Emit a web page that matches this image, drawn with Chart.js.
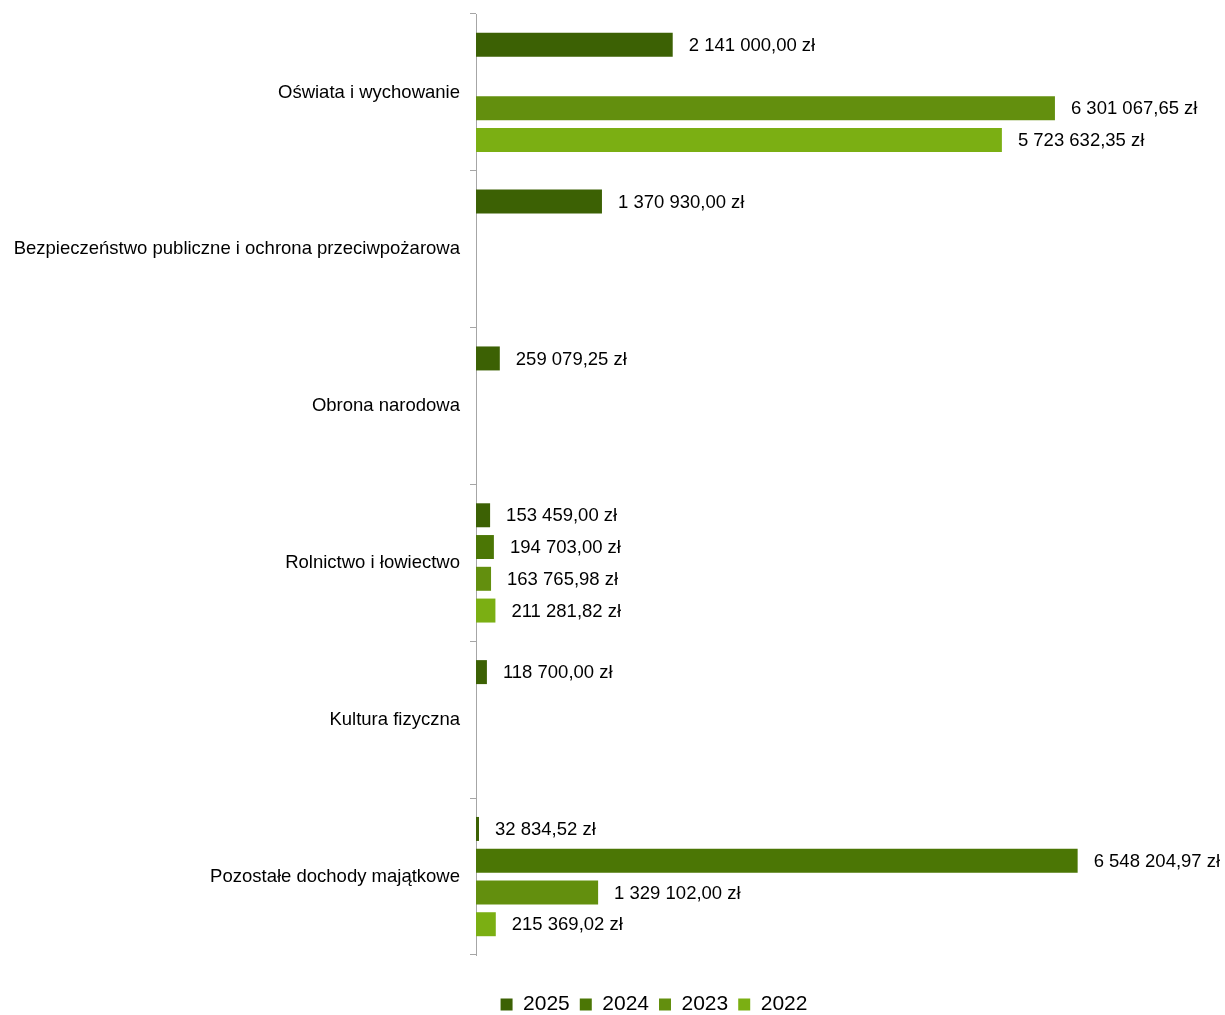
<!DOCTYPE html>
<html><head><meta charset="utf-8">
<script src="https://cdn.jsdelivr.net/npm/chart.js@4"></script>
<style>html,body{margin:0;padding:0;background:#fff;overflow:hidden}</style>
</head><body>
<canvas id="c" width="1225" height="1015"></canvas>
<script>
const categories = ["Oświata i wychowanie","Bezpieczeństwo publiczne i ochrona przeciwpożarowa","Obrona narodowa","Rolnictwo i łowiectwo","Kultura fizyczna","Pozostałe dochody majątkowe"];
const seriesNames = ["2025","2024","2023","2022"];
const values2025 = [2141000.00, 1370930.00, 259079.25, 153459.00, 118700.00, 32834.52];
const values2024 = [null, null, null, 194703.00, null, 6548204.97];
const values2023 = [6301067.65, null, null, 163765.98, null, 1329102.00];
const values2022 = [5723632.35, null, null, 211281.82, null, 215369.02];
const colors = ["#3c6104","#4b7605","#638f0e","#7baf13"];
const FONT = '"Liberation Sans", Arial, sans-serif';

function fmt(v){
  const parts = v.toFixed(2).split(".");
  const int = parts[0].replace(/\B(?=(\d{3})+(?!\d))/g, " ");
  return int + "," + parts[1] + " zł";
}

const labelPlugin = {
  id: 'valLabels',
  afterDatasetsDraw(chart){
    const ctx = chart.ctx;
    ctx.save();
    ctx.font = '18.5px ' + FONT;
    ctx.fillStyle = '#000';
    ctx.textAlign = 'left';
    ctx.textBaseline = 'middle';
    chart.data.datasets.forEach((ds, i) => {
      const meta = chart.getDatasetMeta(i);
      meta.data.forEach((el, j) => {
        const v = ds.data[j];
        if (v === null || v === undefined) return;
        ctx.fillText(fmt(v), el.x + 16, el.y + 1);
      });
    });
    ctx.restore();
  }
};

const allSeries = [values2025, values2024, values2023, values2022];
new Chart(document.getElementById('c'), {
  type: 'bar',
  data: {
    labels: categories,
    datasets: allSeries.map((d, i) => ({
      label: seriesNames[i],
      data: d,
      backgroundColor: colors[i],
      borderWidth: 0,
      categoryPercentage: 0.81,
      barPercentage: 0.755
    }))
  },
  options: {
    indexAxis: 'y',
    responsive: false,
    animation: false,
    layout: { padding: { top: 14, right: -83, left: 0, bottom: -10 } },
    scales: {
      x: {
        display: true, min: 0, max: 8152000,
        grid: { display: false }, border: { display: false }, ticks: { display: false },
        afterFit(scale){ scale.height = 29; }
      },
      y: {
        grid: { display: true, drawOnChartArea: false, offset: true, tickLength: 6, color: '#a6a6a6', lineWidth: 1 },
        border: { display: true, color: '#a6a6a6', width: 1 },
        ticks: { color: '#000', padding: 10, font: { size: 18.5, family: FONT } },
        afterFit(scale){ scale.width = 476; scale.paddingTop = 0; scale.paddingBottom = 0; }
      }
    },
    plugins: {
      legend: {
        position: 'bottom',
        labels: { boxWidth: 12, boxHeight: 12, padding: 10, color: '#000', font: { size: 21, family: FONT } }
      },
      tooltip: { enabled: false }
    }
  },
  plugins: [labelPlugin]
});
</script>
</body></html>
